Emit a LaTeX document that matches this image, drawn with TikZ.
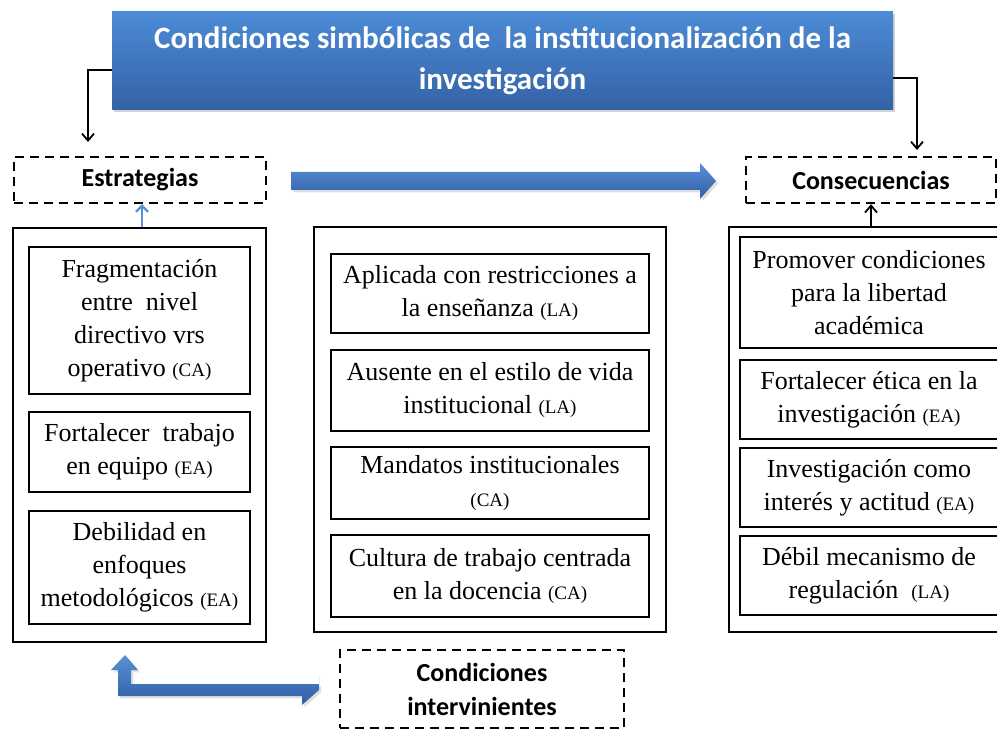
\documentclass[tikz,border=0pt]{standalone}
\usepackage{fontspec}
\setmainfont{Liberation Serif}
\newfontfamily\carl{Carlito}
\usetikzlibrary{shadows,arrows.meta}
\definecolor{tblue}{HTML}{4C8BD6}
\definecolor{tblueD}{HTML}{3462A6}
\definecolor{ablue}{HTML}{5A8FD6}
\definecolor{ablueD}{HTML}{2F5FA5}
\newcommand{\sm}[1]{{\fontsize{19}{20}\selectfont #1}}
\tikzset{
  x=1pt, y=-1pt,
  inbox/.style={draw, line width=2.4pt, align=center, inner sep=0pt,
    font=\fontsize{26}{33}\selectfont},
  outbox/.style={draw, line width=2.4pt, inner sep=0pt},
  dbox/.style={draw, line width=2.4pt, dash pattern=on 9pt off 6pt, align=center,
    inner sep=0pt, font=\carl\bfseries\fontsize{26}{34}\selectfont},
  blk/.style={line width=1.8pt, -{Straight Barb[length=7pt,width=12pt,line width=1.8pt]}},
  bluefill/.style={top color=ablue, bottom color=ablueD, draw=none, drop shadow={opacity=0.25}},
}
\begin{document}
\begin{tikzpicture}
\useasboundingbox (0,0) rectangle (997,733);
% title
\node[minimum width=781pt, minimum height=98pt, inner sep=0pt,
  top color=tblue, bottom color=tblueD, drop shadow={opacity=0.35},
  text=white, align=center, font=\carl\bfseries\fontsize{31}{41}\selectfont]
  (title) at (502.5,61) {Condiciones simbólicas de\ \ la institucionalización de la\\investigación};
% dashed headers
\node[dbox, minimum width=252pt, minimum height=46pt] (estr) at (140,180) {Estrategias};
\node[dbox, minimum width=250pt, minimum height=46pt] (cons) at (871,180) {Consecuencias};
\node[dbox, minimum width=284pt, minimum height=78pt] (cint) at (482,689) {Condiciones\\intervinientes};
% outer boxes
\node[outbox, minimum width=253pt, minimum height=414pt] (lo) at (139.5,435) {};
\node[outbox, minimum width=352pt, minimum height=405pt] (mo) at (490,429.5) {};
\node[outbox, minimum width=290pt, minimum height=405pt] (ro) at (874,429.5) {};
% left inner
\node[inbox, minimum width=221pt, minimum height=147pt] (l1) at (139.5,320.5) {Fragmentación\\entre\ \ nivel\\directivo vrs\\operativo \sm{(CA)}};
\node[inbox, minimum width=221pt, minimum height=80pt] (l2) at (139.5,452) {Fortalecer\ \ trabajo\\en equipo \sm{(EA)}};
\node[inbox, minimum width=221pt, minimum height=113pt] (l3) at (139.5,567.5) {Debilidad en\\enfoques\\metodológicos \sm{(EA)}};
% middle inner
\node[inbox, minimum width=318pt, minimum height=79pt] (m1) at (490,293.5) {Aplicada con restricciones a\\la enseñanza \sm{(LA)}};
\node[inbox, minimum width=318pt, minimum height=81pt] (m2) at (490,390.5) {Ausente en el estilo de vida\\institucional \sm{(LA)}};
\node[inbox, minimum width=318pt, minimum height=72pt] (m3) at (490,483) {Mandatos institucionales\\\sm{(CA)}};
\node[inbox, minimum width=318pt, minimum height=82pt] (m4) at (490,576) {Cultura de trabajo centrada\\en la docencia \sm{(CA)}};
% right inner
\node[inbox, minimum width=258pt, minimum height=111pt] (r1) at (869,292.5) {Promover condiciones\\para la libertad\\académica};
\node[inbox, minimum width=258pt, minimum height=79pt] (r2) at (869,399.5) {Fortalecer ética en la\\investigación \sm{(EA)}};
\node[inbox, minimum width=258pt, minimum height=79pt] (r3) at (869,487.5) {Investigación como\\interés y actitud \sm{(EA)}};
\node[inbox, minimum width=258pt, minimum height=79pt] (r4) at (869,575.5) {Débil mecanismo de\\regulación\ \ \sm{(LA)}};
% black connectors from title
\coordinate (ltip) at (88,142);
\coordinate (rtip) at (917,150);
\draw[blk] (title.west |- 0,70) -| (ltip);
\draw[blk] (title.east |- 0,78) -| (rtip);
\draw[blk] (ro.north -| cons.south) -- (cons.south);
% small blue arrow
\draw[line width=2.2pt, draw=ablue, -{Straight Barb[length=6pt,width=12pt,line width=2.2pt]}] (lo.north -| 142,0) -- (estr.south -| 142,0);
% big blue arrow
\coordinate (ba) at (291,181);
\coordinate (bb) at (716,181);
\path[bluefill] (ba) ++(0,-9) -- ++(409,0) -- ++(0,-9) -- (bb) -- ++(-16,18) -- ++(0,-9) -- ++(-409,0) -- cycle;
% bent double arrow
\coordinate (bv) at (125,655);
\coordinate (bh) at (319,690);
\path[bluefill] (bv) -- ++(13,15) -- ++(-7,0) -- ++(0,14) -- (bh |- 0,684) -- ++(0,-9) -- (bh) -- ++(-17,15) -- ++(0,-9) -- ++(-184,0) -- ++(0,-26) -- ++(-7,0) -- cycle;
\end{tikzpicture}
\end{document}
